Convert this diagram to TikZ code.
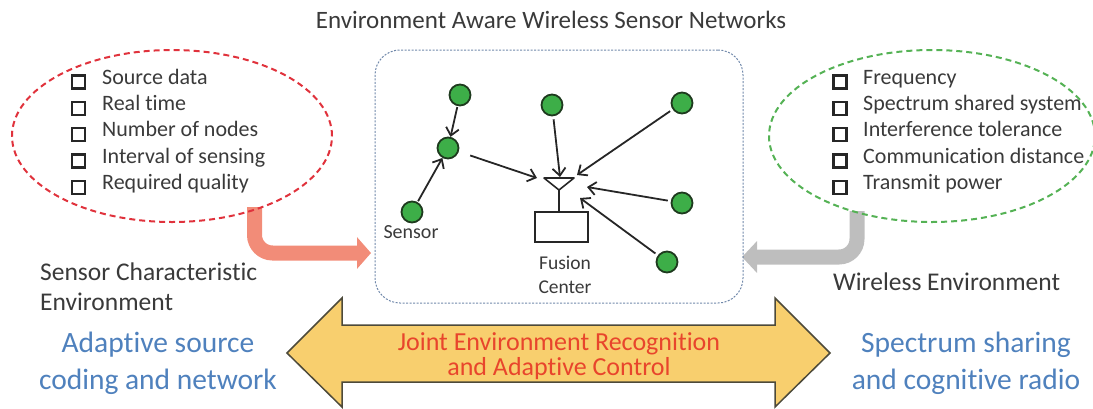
\documentclass[tikz,border=0pt]{standalone}
\usepackage{fontspec}
\setmainfont{Carlito}[Ligatures={NoCommon}]
\usetikzlibrary{arrows.meta,shapes.geometric}
\definecolor{txtgray}{HTML}{3A3A3A}
\definecolor{ellred}{HTML}{E0323C}
\definecolor{ellgreen}{HTML}{55B255}
\definecolor{boxblue}{HTML}{7088AA}
\definecolor{nodegreen}{HTML}{3DAE48}
\definecolor{nodedark}{HTML}{1E3A1E}
\definecolor{salmon}{HTML}{F28C78}
\definecolor{arrgray}{HTML}{BEBEBE}
\definecolor{gold}{HTML}{F8CF6E}
\definecolor{goldline}{HTML}{4D4A3A}
\definecolor{bluetxt}{HTML}{4F81BD}
\definecolor{redtxt}{HTML}{E8452C}
\begin{document}
\begin{tikzpicture}[x=1pt,y=-1pt,
  txt/.style={font=\fontsize{22}{27}\selectfont, text=txtgray, inner sep=0pt},
  item/.style={txt, anchor=mid west},
  biglbl/.style={font=\fontsize{25.5}{30}\selectfont, text=txtgray, inner sep=0pt},
  chk/.style={draw=black!85, line width=2.4pt, minimum size=13pt, inner sep=0pt},
  sensor/.style={circle, fill=nodegreen, draw=nodedark, line width=1.8pt, minimum size=21pt, inner sep=0pt},
  link/.style={draw=black!85, line width=1.8pt, -{Straight Barb[length=7.5pt,width=13pt]}},
  bluelbl/.style={font=\fontsize{29.5}{37}\selectfont, text=bluetxt, align=center, inner sep=0pt},
  dashell/.style={ellipse, line width=2pt, dash pattern=on 6pt off 4pt, minimum width=320pt, minimum height=172pt, inner sep=0pt}
]
\useasboundingbox (0,0) rectangle (1093,408);

% title
\node[font=\fontsize{25}{30}\selectfont, text=txtgray, inner sep=0pt] (title) at (551,20) {Environment Aware Wireless Sensor Networks};

% bent arrows (drawn below ellipses)
\coordinate (ls) at (254.5,207);
\coordinate (lt) at (371,253);
\draw[salmon, line width=15pt, rounded corners=18pt, -{Triangle[length=14pt,width=31pt]}] (ls) |- (lt);
\coordinate (rs) at (857,211);
\coordinate (rt) at (742,257);
\draw[arrgray, line width=15pt, rounded corners=18pt, -{Triangle[length=15pt,width=31pt]}] (rs) |- (rt);

% ellipses
\node[dashell, draw=ellred] (lell) at (172,136) {};
\node[dashell, draw=ellgreen, minimum width=326pt] (rell) at (932,136) {};

% left list
\foreach \t [count=\i] in {Source data, Real time, Number of nodes, Interval of sensing, Required quality} {
  \node[chk] (lc\i) at (78.5,{82+26.3*(\i-1)}) {};
  \node[item] (li\i) at (102,{82+26.3*(\i-1)}) {\t};
}
% right list
\foreach \t [count=\i] in {Frequency, Spectrum shared system, Interference tolerance, Communication distance, Transmit power} {
  \node[chk] (rc\i) at (840,{82+26.3*(\i-1)}) {};
  \node[item] (ri\i) at (863,{82+26.3*(\i-1)}) {\t};
}

% central box
\node[draw=boxblue, line width=1pt, dash pattern=on 2pt off 1.5pt, rounded corners=25pt,
      minimum width=368pt, minimum height=253pt, inner sep=0pt] (wsn) at (559,176.5) {};

% sensors
\node[sensor] (n1) at (460,95) {};
\node[sensor] (n2) at (448,148) {};
\node[sensor] (n3) at (412,212) {};
\node[sensor] (n4) at (552,105) {};
\node[sensor] (n5) at (682,103) {};
\node[sensor] (n6) at (682,203) {};
\node[sensor] (n7) at (667,262) {};

% fusion center
\node[draw=black!85, line width=1.8pt, minimum width=53pt, minimum height=30pt, inner sep=0pt] (fc) at (561.5,227) {};
\coordinate (ant) at (559,190);
\draw[black!85, line width=1.6pt, line join=round] (544,178) -- (574,178) -- (ant) -- cycle;
\draw[black!85, line width=1.8pt] (ant) -- (fc.north -| ant);

\node[font=\fontsize{20}{24}\selectfont, text=txtgray] (sensorlbl) at (411,232) {Sensor};
\node[font=\fontsize{19.5}{24}\selectfont, text=txtgray, align=center] (fclbl) at (565,275) {Fusion\\Center};

% arrows
\coordinate (a2) at (537,178);
\coordinate (a4) at (560,177);
\coordinate (a5) at (577,175);
\coordinate (a6) at (587,187);
\coordinate (a7) at (580,198);
\draw[link, shorten <=1pt] (n1) -- (n2);
\draw[link, shorten <=1pt] (n3) -- (n2);
\draw[link, shorten <=12pt] (n2) -- (a2);
\draw[link, shorten <=3pt] (n4) -- (a4);
\draw[link, shorten <=3pt] (n5) -- (a5);
\draw[link, shorten <=3pt] (n6) -- (a6);
\draw[link, shorten <=3pt] (n7) -- (a7);

% side labels
\node[biglbl, align=left, anchor=west] (sce) at (40,287) {Sensor Characteristic\\Environment};
\node[biglbl, anchor=mid west] (we) at (833,288) {Wireless Environment};

% big double arrow
\draw[fill=gold, draw=goldline, line width=1.5pt, line join=miter]
  (287,353) -- (342,298) -- (342,325) -- (775,325) -- (775,298) -- (830,353)
  -- (775,407) -- (775,382) -- (342,382) -- (342,407) -- cycle;
\node[font=\fontsize{26}{25}\selectfont, text=redtxt, align=center, inner sep=0pt] (joint) at (559,356) {Joint Environment Recognition\\and Adaptive Control};

\node[bluelbl] (adapt) at (158,363.5) {Adaptive source\\coding and network};
\node[bluelbl] (spec) at (966,363.5) {Spectrum sharing\\and cognitive radio};
\end{tikzpicture}
\end{document}
